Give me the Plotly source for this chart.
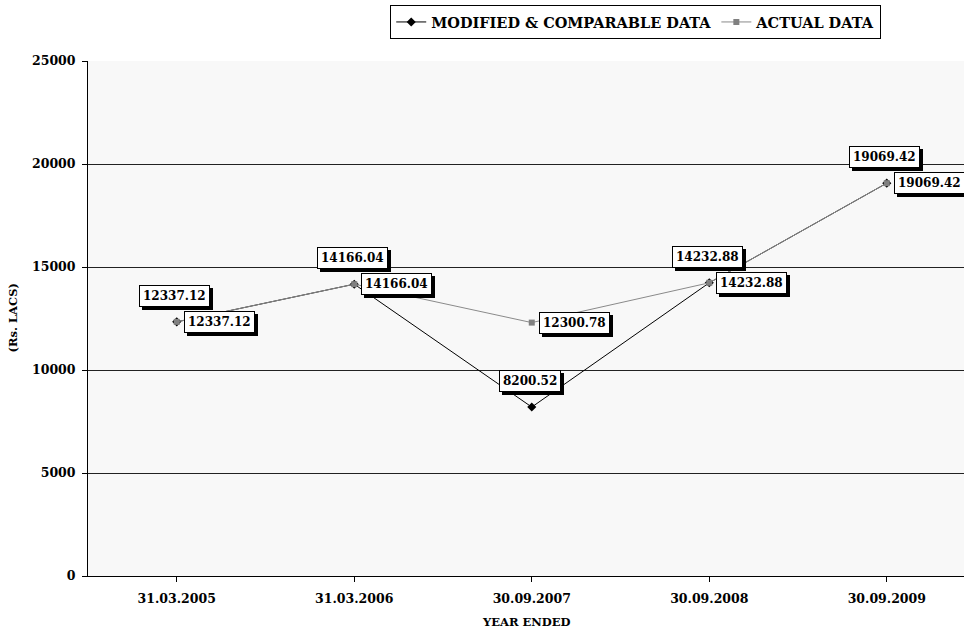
import plotly.graph_objects as go

categories = ["31.03.2005", "31.03.2006", "30.09.2007", "30.09.2008", "30.09.2009"]
modified = [12337.12, 14166.04, 8200.52, 14232.88, 19069.42]
actual = [12337.12, 14166.04, 12300.78, 14232.88, 19069.42]
y_ticks = [0, 5000, 10000, 15000, 20000, 25000]
y_tick_text = ["0", "5000", "10000", "15000", "20000", "25000"]

FONT = "DejaVu Serif"
xs = list(range(len(categories)))

fig = go.Figure()
fig.add_trace(go.Scatter(
    x=xs, y=modified, mode="lines+markers", name="MODIFIED & COMPARABLE DATA",
    line=dict(color="#000000", width=1),
    marker=dict(symbol="diamond", size=7, color="#000000"),
    cliponaxis=False,
))
fig.add_trace(go.Scatter(
    x=xs, y=actual, mode="lines+markers", name="ACTUAL DATA",
    line=dict(color="#8a8a8a", width=1),
    marker=dict(symbol="square", size=6, color="#808080"),
    cliponaxis=False,
))

annotations = []


def boxed(x, y, text, xanchor, xshift, yshift):
    annotations.append(dict(
        x=x, y=y, xref="x", yref="y", text=text, showarrow=False,
        xanchor=xanchor, yanchor="middle", xshift=xshift + 3, yshift=yshift - 3,
        font=dict(family=FONT, size=12, color="#000000", weight="bold"),
        bgcolor="#000000", bordercolor="#000000", borderwidth=1, borderpad=3,
    ))
    annotations.append(dict(
        x=x, y=y, xref="x", yref="y", text=text, showarrow=False,
        xanchor=xanchor, yanchor="middle", xshift=xshift, yshift=yshift,
        font=dict(family=FONT, size=12, color="#000000", weight="bold"),
        bgcolor="#ffffff", bordercolor="#000000", borderwidth=1, borderpad=3,
    ))


for i in xs:
    boxed(i, modified[i], f"{modified[i]:.2f}", "center", -2, 26)
for i in xs:
    boxed(i, actual[i], f"{actual[i]:.2f}", "left", 7, 0)

annotations.append(dict(
    x=0, y=0.5, xref="paper", yref="paper", text="(Rs. LACS)", showarrow=False,
    textangle=-90, xanchor="center", yanchor="middle", xshift=-76,
    font=dict(family=FONT, size=11.5, color="#000000", weight="bold"),
))
annotations.append(dict(
    x=0.5, y=0, xref="paper", yref="paper", text="YEAR ENDED", showarrow=False,
    xanchor="center", yanchor="middle", yshift=-46,
    font=dict(family=FONT, size=11.5, color="#000000", weight="bold"),
))

fig.update_layout(
    width=964, height=632,
    margin=dict(l=88, r=0, t=61, b=56, autoexpand=False),
    paper_bgcolor="#ffffff",
    plot_bgcolor="#f8f8f8",
    font=dict(family=FONT, size=12, color="#000000", weight="bold"),
    showlegend=True,
    legend=dict(
        orientation="h", x=0.345, xanchor="left", y=1.1087, yanchor="top",
        bordercolor="#000000", borderwidth=1, bgcolor="#ffffff",
        font=dict(family=FONT, size=14.5, color="#000000", weight="bold"),
        itemwidth=30,
    ),
    annotations=annotations,
    xaxis=dict(
        range=[-0.5, 4.435], tickmode="array", tickvals=xs, ticktext=categories,
        tickson="boundaries", ticks="outside", ticklen=5, tickcolor="#000000",
        showline=True, linecolor="#000000", linewidth=1, showgrid=False,
        zeroline=False, tickfont=dict(family=FONT, size=12.5, weight="bold"),
        ticklabelstandoff=6,
    ),
    yaxis=dict(
        range=[0, 25000], tickmode="array", tickvals=y_ticks, ticktext=y_tick_text,
        ticks="outside", ticklen=5, tickcolor="#000000",
        showline=True, linecolor="#000000", linewidth=1,
        showgrid=True, gridcolor="#222222", gridwidth=1,
        zeroline=False, tickfont=dict(family=FONT, size=12.5, weight="bold"),
        ticklabelstandoff=4,
    ),
)

fig.write_html(
    "out.html",
    config={"displayModeBar": False},
    post_script="document.body.style.margin='0';document.body.style.overflow='hidden';",
)
